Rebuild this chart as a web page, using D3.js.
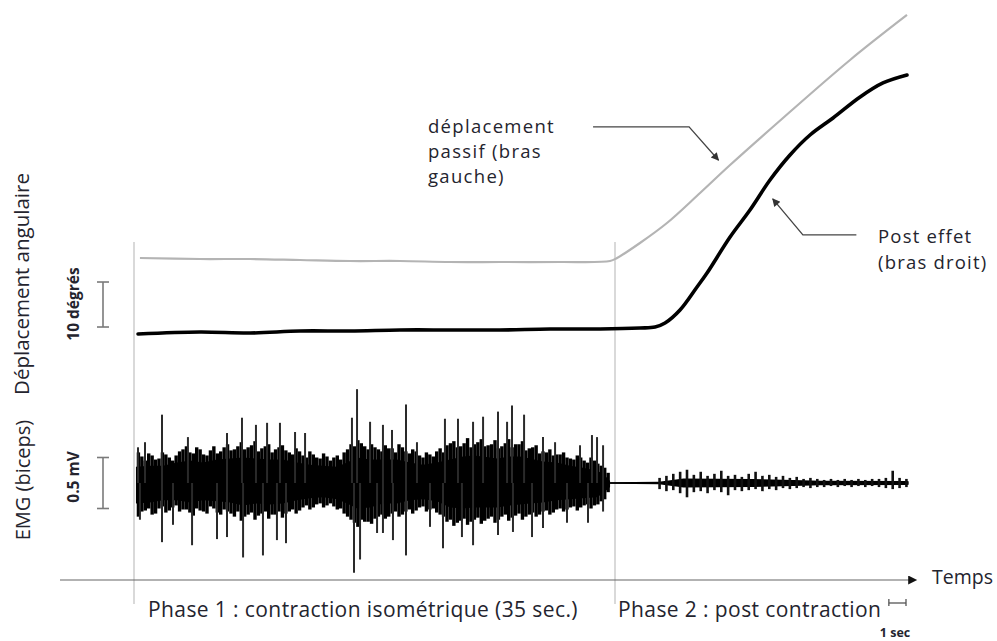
<!DOCTYPE html>
<html><head><meta charset="utf-8">
<script src="https://cdn.jsdelivr.net/npm/d3@7"></script>
<style>
body{margin:0;background:#fff}
svg{display:block}
text{font-family:"Open Sans",sans-serif;fill:#24242e}
</style>
</head><body>
<svg id="c" width="997" height="641"></svg>
<script>
// ---------- DATA (time in seconds, angle in degrees, EMG in mV) ----------
const phaseLabels = ["Phase 1 : contraction isométrique (35 sec.)", "Phase 2 : post contraction"];
const phaseEnd = 35;
const axisLabelX = "Temps";
const axisLabelAngle = "Déplacement angulaire";
const axisLabelEmg = "EMG (biceps)";
const scaleAngleLabel = "10 dégrés", scaleAngleValue = 10;
const scaleEmgLabel = "0.5 mV", scaleEmgValue = 0.5;
const scaleTimeLabel = "1 sec", scaleTimeValue = 1;
const annotPassive = ["déplacement", "passif (bras", "gauche)"];
const annotPost = ["Post effet", "(bras droit)"];

// Post effect (right arm) - black curve
const blackT   = [0.22,4.74,8.39,12.03,15.68,19.32,22.97,26.61,30.26,33.91,36.82,37.92,38.65,39.74,40.98,41.71,43.39,44.84,46.30,47.76,49.22,50.90,52.87,54.54,56.29];
const blackDeg = [-0.22,0.22,0.0,0.44,0.44,0.67,0.67,0.67,0.89,0.89,1.11,1.33,2.22,5.11,10.22,13.33,21.33,27.33,34.0,39.56,44.0,47.78,52.44,55.56,57.33];
// Passive displacement (left arm) - grey curve
const grayT   = [0.36,4.74,8.39,12.03,15.68,19.32,22.97,26.61,30.99,34.64,35.15,36.82,38.79,41.20,43.39,47.25,52.14,56.29];
const grayDeg = [16.67,16.44,16.44,16.22,16.0,16.0,15.78,15.78,15.78,16.0,16.67,20.0,24.44,31.11,37.33,47.78,60.67,70.67];

// EMG, phase 1 dense core envelope
const coreT  = [0.07,1.09,2.04,3.06,4.01,4.96,5.98,6.93,7.88,8.90,9.84,10.79,11.81,12.76,13.71,14.73,15.46,16.19,17.14,18.08,19.10,20.05,21.0,22.02,22.97,23.92,24.65,25.38,26.40,27.34,28.07,28.80,29.75,30.77,31.72,32.67,33.69,34.13,34.64];
const coreHi = [0.16,0.17,0.17,0.20,0.22,0.20,0.23,0.24,0.25,0.24,0.23,0.23,0.20,0.18,0.17,0.16,0.20,0.25,0.23,0.23,0.23,0.20,0.18,0.20,0.23,0.26,0.27,0.26,0.24,0.26,0.26,0.24,0.21,0.20,0.17,0.15,0.12,0.09,0.02];
const coreLo = [0.20,0.19,0.17,0.17,0.19,0.17,0.18,0.19,0.22,0.20,0.21,0.20,0.17,0.15,0.14,0.16,0.20,0.25,0.24,0.20,0.20,0.17,0.16,0.18,0.24,0.25,0.24,0.24,0.24,0.22,0.21,0.20,0.19,0.17,0.16,0.15,0.14,0.10,0.04];
// EMG, phase 1 bursts sampled every 0.5 s (two interleaved sets)
const fringeT  = d3.range(0.25, 34.3, 0.5);
const fringeHi = [0.30,0.22,0.27,0.24,0.28,0.22,0.31,0.36,0.29,0.33,0.27,0.36,0.31,0.38,0.33,0.40,0.35,0.41,0.34,0.38,0.33,0.37,0.30,0.34,0.27,0.31,0.25,0.29,0.22,0.27,0.30,0.38,0.42,0.36,0.38,0.33,0.37,0.34,0.38,0.31,0.33,0.27,0.30,0.26,0.34,0.37,0.41,0.36,0.44,0.38,0.43,0.37,0.42,0.36,0.43,0.38,0.41,0.34,0.37,0.31,0.33,0.28,0.30,0.24,0.27,0.22,0.25,0.19,0.15];
const fringeLo = [0.33,0.27,0.31,0.25,0.29,0.24,0.28,0.26,0.32,0.27,0.30,0.25,0.31,0.28,0.33,0.37,0.31,0.36,0.30,0.35,0.31,0.34,0.28,0.30,0.24,0.26,0.21,0.24,0.20,0.26,0.30,0.36,0.43,0.38,0.40,0.33,0.35,0.30,0.33,0.28,0.30,0.24,0.28,0.25,0.31,0.38,0.42,0.37,0.41,0.36,0.40,0.35,0.39,0.33,0.37,0.32,0.36,0.31,0.33,0.28,0.31,0.26,0.28,0.24,0.27,0.22,0.25,0.21,0.16];
const fringe2T  = d3.range(0.5, 34.55, 0.5);
const fringe2Hi = [0.26,0.29,0.23,0.30,0.25,0.27,0.33,0.30,0.35,0.28,0.32,0.29,0.35,0.32,0.36,0.33,0.37,0.31,0.36,0.30,0.35,0.32,0.28,0.31,0.25,0.28,0.24,0.26,0.25,0.23,0.33,0.36,0.39,0.33,0.35,0.31,0.34,0.30,0.35,0.29,0.31,0.25,0.28,0.31,0.30,0.39,0.35,0.39,0.35,0.40,0.36,0.38,0.34,0.39,0.35,0.38,0.32,0.35,0.29,0.30,0.27,0.28,0.25,0.23,0.25,0.20,0.22,0.17,0.10];
const fringe2Lo = [0.28,0.25,0.30,0.23,0.27,0.22,0.26,0.29,0.25,0.28,0.23,0.29,0.26,0.30,0.28,0.33,0.29,0.32,0.28,0.31,0.28,0.30,0.26,0.27,0.22,0.24,0.20,0.22,0.23,0.25,0.33,0.39,0.36,0.38,0.35,0.31,0.33,0.28,0.31,0.26,0.27,0.23,0.26,0.29,0.33,0.36,0.39,0.35,0.38,0.34,0.37,0.33,0.36,0.31,0.34,0.30,0.33,0.29,0.31,0.27,0.29,0.25,0.26,0.23,0.24,0.21,0.22,0.18,0.09];
// EMG, individual large spikes
const spikeUpT  = [0.22,0.73,1.97,3.86,6.71,7.80,8.82,9.63,10.57,11.67,12.40,15.82,16.19,17.14,18.08,18.74,19.76,20.56,22.60,23.55,24.65,25.38,26.47,27.13,27.49,28.37,29.75,30.63,32.45,33.32,33.69,34.13];
const spikeUpMv = [0.35,0.40,0.67,0.45,0.49,0.64,0.57,0.59,0.59,0.50,0.49,0.64,0.92,0.60,0.57,0.52,0.77,0.40,0.63,0.63,0.60,0.65,0.70,0.60,0.76,0.67,0.45,0.40,0.37,0.47,0.45,0.37];
const spikeDnT  = [0.36,1.97,2.77,4.16,5.98,6.71,7.88,9.33,10.35,11.01,15.97,16.41,17.65,18.08,18.81,19.76,21.51,22.46,23.84,24.65,26.47,27.56,28.95,29.75,31.50,33.03,34.13];
const spikeDnMv = [-0.36,-0.58,-0.41,-0.61,-0.55,-0.53,-0.73,-0.71,-0.56,-0.59,-0.88,-0.75,-0.49,-0.49,-0.56,-0.71,-0.43,-0.64,-0.53,-0.61,-0.51,-0.48,-0.53,-0.44,-0.39,-0.39,-0.28];
// EMG, phase 2 (post contraction)
const postT  = d3.range(38.25, 56.3, 0.5);
const postHi = [0.05,0.07,0.09,0.11,0.13,0.08,0.11,0.07,0.09,0.12,0.07,0.08,0.06,0.09,0.11,0.07,0.08,0.06,0.07,0.05,0.06,0.04,0.05,0.04,0.03,0.04,0.03,0.04,0.03,0.04,0.03,0.04,0.04,0.05,0.12,0.05,0.04];
const postLo = [0.06,0.08,0.07,0.10,0.14,0.09,0.08,0.10,0.07,0.09,0.12,0.07,0.08,0.07,0.06,0.08,0.06,0.07,0.05,0.06,0.05,0.04,0.05,0.04,0.04,0.03,0.04,0.03,0.04,0.03,0.04,0.03,0.04,0.05,0.06,0.05,0.04];
const postCoreT  = [34.64,38.2,40,45,48,50,56.4];
const postCoreMv = [0.008,0.012,0.045,0.04,0.03,0.022,0.02];

// ---------- SCALES ----------
const svg = d3.select("#c");
const x = d3.scaleLinear().domain([0, phaseEnd]).range([135, 615]);
const yA = d3.scaleLinear().domain([0, 10]).range([333, 288]);
const yE = d3.scaleLinear().domain([-0.25, 0.25]).range([508.5, 457.5]);

const defs = svg.append("defs");
defs.append("marker").attr("id","ah").attr("viewBox","0 0 10 10").attr("refX",9).attr("refY",5)
  .attr("markerWidth",10).attr("markerHeight",8).attr("markerUnits","userSpaceOnUse").attr("orient","auto")
  .append("path").attr("d","M0,0L10,5L0,10Z").attr("fill","#333");
defs.append("marker").attr("id","axh").attr("viewBox","0 0 10 10").attr("refX",2).attr("refY",5)
  .attr("markerWidth",10).attr("markerHeight",9).attr("markerUnits","userSpaceOnUse").attr("orient","auto")
  .append("path").attr("d","M0,0L10,5L0,10Z").attr("fill","#111");

// vertical phase guides
[0, phaseEnd].forEach(t => {
  svg.append("line").attr("x1", x(t) - (t===0?1:0)).attr("x2", x(t) - (t===0?1:0))
    .attr("y1", 242).attr("y2", 604).attr("stroke", "#d0d0d0").attr("stroke-width", 1.6);
});

// time axis
svg.append("line").attr("x1", 60).attr("x2", 910).attr("y1", 580).attr("y2", 580)
  .attr("stroke", "#666").attr("stroke-width", 1.2).attr("marker-end", "url(#axh)");
svg.append("text").attr("x", 932).attr("y", 584).attr("font-size", 19.5).text(axisLabelX);

// angle curves
const lineA = d3.line().x(d => x(d[0])).y(d => yA(d[1])).curve(d3.curveCatmullRom.alpha(0.5));
svg.append("path").datum(d3.zip(grayT, grayDeg)).attr("d", lineA)
  .attr("fill","none").attr("stroke","#b4b4b4").attr("stroke-width",2.2);
svg.append("path").datum(d3.zip(blackT, blackDeg)).attr("d", lineA)
  .attr("fill","none").attr("stroke","#000").attr("stroke-width",3.6).attr("stroke-linecap","round");

// EMG
const g = svg.append("g");
g.append("line").attr("x1", x(34.5)).attr("x2", x(56.4)).attr("y1", yE(0)).attr("y2", yE(0))
  .attr("stroke","#111").attr("stroke-width",1.6);
g.append("path").datum(d3.zip(coreT, coreHi, coreLo))
  .attr("d", d3.area().x(d => x(d[0])).y0(d => yE(-d[2])).y1(d => yE(d[1])))
  .attr("fill","#000");
function bursts(T, H, L, w, col){
  g.append("g").selectAll("line").data(d3.zip(T, H, L)).join("line")
    .attr("x1", d => x(d[0])).attr("x2", d => x(d[0]))
    .attr("y1", d => yE(d[1])).attr("y2", d => yE(-d[2]))
    .attr("stroke", col).attr("stroke-width", w);
}
bursts(fringeT, fringeHi, fringeLo, 3.4, "#000");
bursts(fringe2T, fringe2Hi, fringe2Lo, 3.4, "#000");
g.append("g").selectAll("line").data(d3.zip(spikeUpT, spikeUpMv)).join("line")
  .attr("x1", d => x(d[0])).attr("x2", d => x(d[0]))
  .attr("y1", yE(0)).attr("y2", d => yE(d[1]))
  .attr("stroke","#2a2a2a").attr("stroke-width",2);
g.append("g").selectAll("line").data(d3.zip(spikeDnT, spikeDnMv)).join("line")
  .attr("x1", d => x(d[0])).attr("x2", d => x(d[0]))
  .attr("y1", yE(0)).attr("y2", d => yE(d[1]))
  .attr("stroke","#2a2a2a").attr("stroke-width",2);
g.append("path").datum(d3.zip(postCoreT, postCoreMv))
  .attr("d", d3.area().x(d => x(d[0])).y0(d => yE(-d[1])).y1(d => yE(d[1])))
  .attr("fill","#000");
bursts(postT, postHi, postLo, 2.6, "#111");

// scale bars
function vbar(xp, y1, y2){
  const s = svg.append("g").attr("stroke","#7a7a7a").attr("stroke-width",1.6);
  s.append("line").attr("x1",xp).attr("x2",xp).attr("y1",y1).attr("y2",y2);
  s.append("line").attr("x1",xp-6).attr("x2",xp+6).attr("y1",y1).attr("y2",y1);
  s.append("line").attr("x1",xp-6).attr("x2",xp+6).attr("y1",y2).attr("y2",y2);
}
vbar(103, yA(1.33 + scaleAngleValue), yA(1.33));
vbar(103, yE(scaleEmgValue/2), yE(-scaleEmgValue/2));
// time scale bar (1 sec)
(function(){
  const x2 = 906, x1 = x2 - (x(scaleTimeValue) - x(0)) * 1.25;
  const s = svg.append("g").attr("stroke","#555").attr("stroke-width",1.3);
  s.append("line").attr("x1",x1).attr("x2",x2).attr("y1",603).attr("y2",603);
  s.append("line").attr("x1",x1).attr("x2",x1).attr("y1",599).attr("y2",606);
  s.append("line").attr("x1",x2).attr("x2",x2).attr("y1",599).attr("y2",606);
  svg.append("text").attr("x", 895).attr("y", 637).attr("text-anchor","middle")
    .attr("font-size",12.5).attr("font-weight","bold").text(scaleTimeLabel);
})();

// rotated labels
svg.append("text").attr("transform","translate(29,284) rotate(-90)").attr("text-anchor","middle")
  .attr("font-size",20.5).text(axisLabelAngle);
svg.append("text").attr("transform","translate(30,480) rotate(-90)").attr("text-anchor","middle")
  .attr("font-size",20).text(axisLabelEmg);
svg.append("text").attr("transform","translate(79,304) rotate(-90)").attr("text-anchor","middle")
  .attr("font-size",15.5).attr("font-weight","bold").text(scaleAngleLabel);
svg.append("text").attr("transform","translate(79,477) rotate(-90)").attr("text-anchor","middle")
  .attr("font-size",15.5).attr("font-weight","bold").text(scaleEmgLabel);

// phase labels
svg.append("text").attr("x",148).attr("y",617).attr("font-size",21).attr("letter-spacing",0.4).text(phaseLabels[0]);
svg.append("text").attr("x",618).attr("y",617).attr("font-size",21).attr("letter-spacing",0.4).text(phaseLabels[1]);

// annotations
annotPassive.forEach((s,i) => svg.append("text").attr("x",428).attr("y",133 + i*25)
  .attr("font-size",18.5).attr("letter-spacing",1.3).text(s));
svg.append("path").attr("d", d3.line()([[x(33.4), yA(45.8)], [x(40.4), yA(45.8)], [x(42.55), yA(38.4)]]))
  .attr("fill","none").attr("stroke","#444").attr("stroke-width",1.3).attr("marker-end","url(#ah)");
annotPost.forEach((s,i) => svg.append("text").attr("x",878).attr("y",243 + i*25.5)
  .attr("font-size",18.5).attr("letter-spacing",1.2).text(s));
svg.append("path").attr("d", d3.line()([[x(52.6), yA(21.8)], [x(48.7), yA(21.8)], [x(46.5), yA(29.8)]]))
  .attr("fill","none").attr("stroke","#444").attr("stroke-width",1.3).attr("marker-end","url(#ah)");
</script>
</body></html>
